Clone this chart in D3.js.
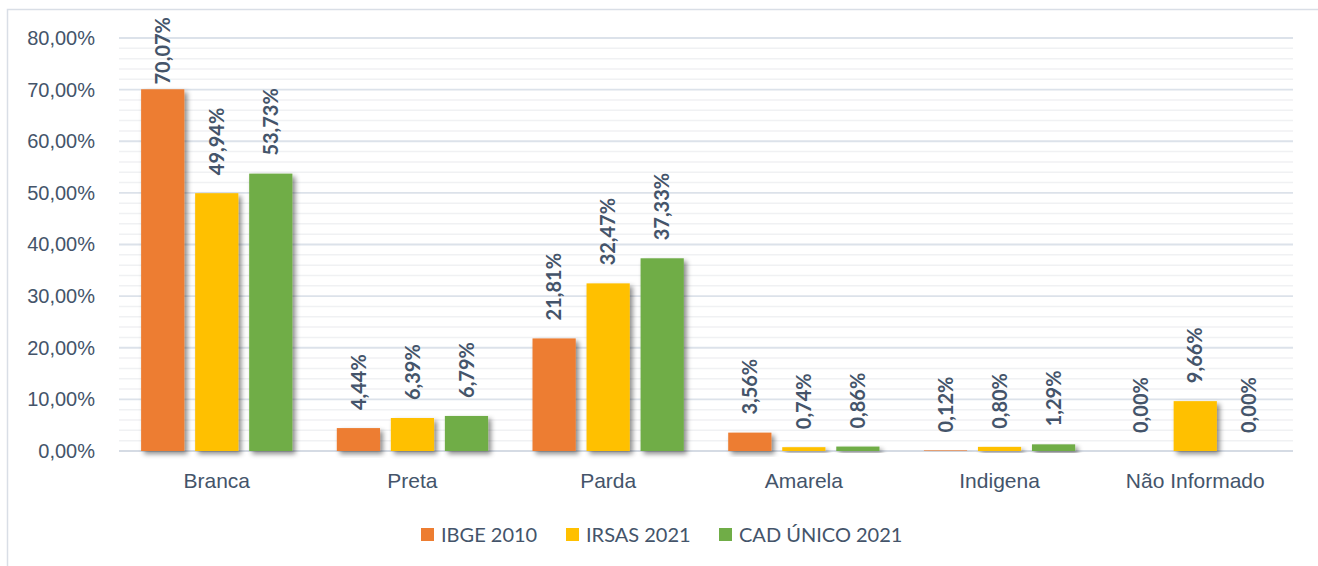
<!DOCTYPE html>
<html>
<head>
<meta charset="utf-8">
<script src="https://cdn.jsdelivr.net/npm/d3@7"></script>
<style>
  html, body { margin: 0; padding: 0; background: #fff; }
  svg { display: block; font-family: Lato, "Open Sans", sans-serif; }
</style>
</head>
<body>
<div id="chart"></div>
<script>
// data
var categories = ["Branca", "Preta", "Parda", "Amarela", "Indigena", "Não Informado"];
var seriesNames = ["IBGE 2010", "IRSAS 2021", "CAD ÚNICO 2021"];
var ibge2010 = [70.07, 4.44, 21.81, 3.56, 0.12, 0.00];
var irsas2021 = [49.94, 6.39, 32.47, 0.74, 0.80, 9.66];
var cadUnico2021 = [53.73, 6.79, 37.33, 0.86, 1.29, 0.00];
var yTicks = [0, 10, 20, 30, 40, 50, 60, 70, 80];
var colors = ["#ED7D31", "#FFC000", "#70AD47"];

var width = 1318, height = 566;
var textColor = "#44546A";
var margin = {top: 38, right: 25, bottom: 115, left: 119};

var series = [ibge2010, irsas2021, cadUnico2021];

var svg = d3.select("#chart").append("svg")
    .attr("width", width)
    .attr("height", height);

// shadow filter for the bars
var defs = svg.append("defs");
var filter = defs.append("filter")
    .attr("id", "shadow")
    .attr("x", "-20%").attr("y", "-20%")
    .attr("width", "150%").attr("height", "150%");
filter.append("feDropShadow")
    .attr("dx", 3).attr("dy", 3)
    .attr("stdDeviation", 2.5)
    .attr("flood-color", "#000")
    .attr("flood-opacity", 0.45);

// chart area border
svg.append("rect")
    .attr("x", 7.5).attr("y", 9.5)
    .attr("width", width + 20).attr("height", height + 20)
    .attr("fill", "none")
    .attr("stroke", "#D9DEE6")
    .attr("stroke-width", 1.5);

var x0 = d3.scaleBand()
    .domain(categories)
    .range([margin.left, width - margin.right])
    .paddingInner(0.227)
    .paddingOuter(0.113);

var x1 = d3.scaleBand()
    .domain(d3.range(seriesNames.length))
    .range([0, x0.bandwidth()])
    .paddingInner(0.2);

var y = d3.scaleLinear()
    .domain([0, 80])
    .range([height - margin.bottom, margin.top]);

// minor grid every 2%
var minor = d3.range(0, 80.01, 2).filter(function(d){ return d % 10 !== 0; });
svg.append("g").selectAll("line")
    .data(minor)
    .enter().append("line")
    .attr("x1", margin.left).attr("x2", width - margin.right)
    .attr("y1", function(d){ return y(d); })
    .attr("y2", function(d){ return y(d); })
    .attr("stroke", "#F0F1F3")
    .attr("stroke-width", 1.5);

// major grid
svg.append("g").selectAll("line")
    .data(yTicks)
    .enter().append("line")
    .attr("x1", margin.left).attr("x2", width - margin.right)
    .attr("y1", function(d){ return y(d); })
    .attr("y2", function(d){ return y(d); })
    .attr("stroke", function(d){ return d === 0 ? "#D5DBE4" : "#DCE2EA"; })
    .attr("stroke-width", 1.8);

// y axis labels
var yAxis = d3.axisLeft(y)
    .tickValues(yTicks)
    .tickSize(0)
    .tickPadding(0)
    .tickFormat(function(d){ return d3.format(".2f")(d).replace(".", ",") + "%"; });
var gy = svg.append("g")
    .attr("transform", "translate(95,0)")
    .call(yAxis);
gy.select(".domain").remove();
gy.selectAll("text")
    .attr("fill", textColor)
    .style("font-size", "20px");

// x axis labels
var xAxis = d3.axisBottom(x0).tickSize(0).tickPadding(0);
var gx = svg.append("g")
    .attr("transform", "translate(0," + (y(0) + 22) + ")")
    .call(xAxis);
gx.select(".domain").remove();
gx.selectAll("text")
    .attr("fill", textColor)
    .style("font-size", "21px");

// bars
var groups = svg.append("g").selectAll("g")
    .data(categories)
    .enter().append("g")
    .attr("transform", function(d){ return "translate(" + x0(d) + ",0)"; });

var cells = groups.selectAll("g.cell")
    .data(function(d, i){
      return series.map(function(s, k){ return {k: k, value: s[i]}; });
    })
    .enter().append("g").attr("class", "cell");

cells.append("rect")
    .attr("x", function(d){ return x1(d.k); })
    .attr("width", x1.bandwidth())
    .attr("y", function(d){ return y(d.value); })
    .attr("height", function(d){ return y(0) - y(d.value); })
    .attr("fill", function(d){ return colors[d.k]; })
    .attr("filter", function(d){ return d.value > 0 ? "url(#shadow)" : null; });

// data labels, rotated
cells.append("text")
    .attr("fill", textColor)
    .style("font-size", "20px")
    .style("font-weight", "bold")
    .attr("text-anchor", "start")
    .attr("dy", "0.36em")
    .text(function(d){ return d3.format(".2f")(d.value).replace(".", ",") + "%"; })
    .attr("transform", function(d){
      var len = this.getComputedTextLength();
      var bottom = Math.max(y(d.value) - 18, 17 + len);
      return "translate(" + (x1(d.k) + x1.bandwidth() / 2) + "," + bottom + ") rotate(-90)";
    });

// legend
var legendX = [421, 566, 719];
var legend = svg.append("g").selectAll("g")
    .data(seriesNames)
    .enter().append("g")
    .attr("transform", function(d, i){ return "translate(" + legendX[i] + ",535)"; });
legend.append("rect")
    .attr("x", 0).attr("y", -7)
    .attr("width", 13).attr("height", 13)
    .attr("fill", function(d, i){ return colors[i]; });
legend.append("text")
    .attr("x", 20)
    .attr("dy", "0.35em")
    .attr("fill", textColor)
    .style("font-size", "20px")
    .text(function(d){ return d; });
</script>
</body>
</html>
